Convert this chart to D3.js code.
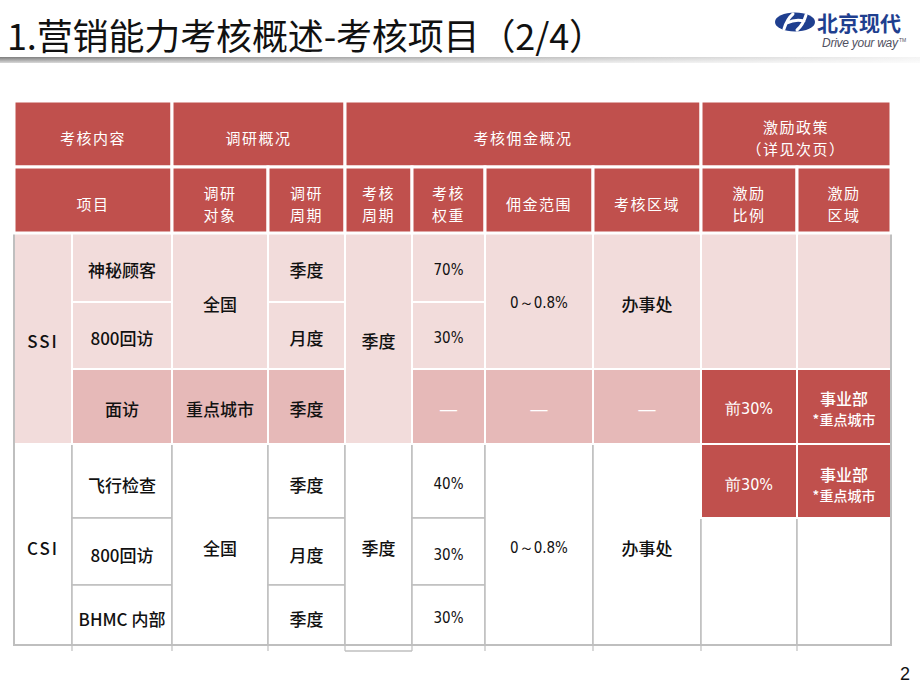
<!DOCTYPE html>
<html lang="zh">
<head>
<meta charset="utf-8" />
<title>营销能力考核概述-考核项目（2/4）</title>
<script src="https://cdn.jsdelivr.net/npm/d3@7"></script>
<style>
  body { margin: 0; background: #fff; }
  svg { display: block; }
  .title { font-family: "Noto Sans CJK SC", sans-serif; font-size: 36px; fill: #111; }
  .hdr { font-family: "Noto Sans CJK SC", sans-serif; font-size: 15px; fill: #fff; letter-spacing: 1.5px; }
  .cell { font-family: "Noto Sans CJK SC", sans-serif; font-size: 17px; font-weight: 500; fill: #111; }
  .num { font-family: "DejaVu Sans Condensed", "Liberation Sans", sans-serif; font-size: 15px; font-weight: normal; }
  .dash { font-family: "DejaVu Sans", sans-serif; font-size: 19px; }
</style>
</head>
<body>
<svg width="920" height="690"></svg>

<script>
// ---- data ----
var title = "1.营销能力考核概述-考核项目（2/4）";
var pageNo = "2";

// header, row 0 and row 1: text lines, column span [c0, c1], row span [r0, r1]
var headerCells = [
  {text: ["考核内容"], c: [0, 2], r: [0, 1]},
  {text: ["调研概况"], c: [2, 4], r: [0, 1]},
  {text: ["考核佣金概况"], c: [4, 8], r: [0, 1]},
  {text: ["激励政策", "（详见次页）"], c: [8, 10], r: [0, 1]},
  {text: ["项目"], c: [0, 2], r: [1, 2]},
  {text: ["调研", "对象"], c: [2, 3], r: [1, 2]},
  {text: ["调研", "周期"], c: [3, 4], r: [1, 2]},
  {text: ["考核", "周期"], c: [4, 5], r: [1, 2]},
  {text: ["考核", "权重"], c: [5, 6], r: [1, 2]},
  {text: ["佣金范围"], c: [6, 7], r: [1, 2]},
  {text: ["考核区域"], c: [7, 8], r: [1, 2]},
  {text: ["激励", "比例"], c: [8, 9], r: [1, 2]},
  {text: ["激励", "区域"], c: [9, 10], r: [1, 2]}
];

// body: kind p = light pink, d = dark pink, r = red, w = white
var ssiCells = [
  {text: ["SSI"], c: [0, 1], r: [2, 5], kind: "p"},
  {text: ["神秘顾客"], c: [1, 2], r: [2, 3], kind: "p"},
  {text: ["800回访"], c: [1, 2], r: [3, 4], kind: "p"},
  {text: ["面访"], c: [1, 2], r: [4, 5], kind: "d"},
  {text: ["全国"], c: [2, 3], r: [2, 4], kind: "p"},
  {text: ["重点城市"], c: [2, 3], r: [4, 5], kind: "d"},
  {text: ["季度"], c: [3, 4], r: [2, 3], kind: "p"},
  {text: ["月度"], c: [3, 4], r: [3, 4], kind: "p"},
  {text: ["季度"], c: [3, 4], r: [4, 5], kind: "d"},
  {text: ["季度"], c: [4, 5], r: [2, 5], kind: "p"},
  {text: ["70%"], c: [5, 6], r: [2, 3], kind: "p"},
  {text: ["30%"], c: [5, 6], r: [3, 4], kind: "p"},
  {text: ["—"], c: [5, 6], r: [4, 5], kind: "d"},
  {text: ["0～0.8%"], c: [6, 7], r: [2, 4], kind: "p"},
  {text: ["—"], c: [6, 7], r: [4, 5], kind: "d"},
  {text: ["办事处"], c: [7, 8], r: [2, 4], kind: "p"},
  {text: ["—"], c: [7, 8], r: [4, 5], kind: "d"},
  {text: [], c: [8, 9], r: [2, 4], kind: "p"},
  {text: ["前30%"], c: [8, 9], r: [4, 5], kind: "r"},
  {text: [], c: [9, 10], r: [2, 4], kind: "p"},
  {text: ["事业部", "*重点城市"], c: [9, 10], r: [4, 5], kind: "r"}
];

var csiCells = [
  {text: ["CSI"], c: [0, 1], r: [5, 8], kind: "w"},
  {text: ["飞行检查"], c: [1, 2], r: [5, 6], kind: "w"},
  {text: ["800回访"], c: [1, 2], r: [6, 7], kind: "w"},
  {text: ["BHMC 内部"], c: [1, 2], r: [7, 8], kind: "w"},
  {text: ["全国"], c: [2, 3], r: [5, 8], kind: "w"},
  {text: ["季度"], c: [3, 4], r: [5, 6], kind: "w"},
  {text: ["月度"], c: [3, 4], r: [6, 7], kind: "w"},
  {text: ["季度"], c: [3, 4], r: [7, 8], kind: "w"},
  {text: ["季度"], c: [4, 5], r: [5, 8], kind: "w"},
  {text: ["40%"], c: [5, 6], r: [5, 6], kind: "w"},
  {text: ["30%"], c: [5, 6], r: [6, 7], kind: "w"},
  {text: ["30%"], c: [5, 6], r: [7, 8], kind: "w"},
  {text: ["0～0.8%"], c: [6, 7], r: [5, 8], kind: "w"},
  {text: ["办事处"], c: [7, 8], r: [5, 8], kind: "w"},
  {text: ["前30%"], c: [8, 9], r: [5, 6], kind: "r"},
  {text: [], c: [8, 9], r: [6, 8], kind: "w"},
  {text: ["事业部", "*重点城市"], c: [9, 10], r: [5, 6], kind: "r"},
  {text: [], c: [9, 10], r: [6, 8], kind: "w"}
];

// ---- layout ----
var colEdges = [14, 72, 172, 268, 345, 412, 485, 593, 701, 797, 891];
var rowEdges = [101, 167, 233, 302, 369, 444, 518, 585, 645];

var red = "#c0504d", pink = "#f2dcdb", darkPink = "#e6b9b8", grid = "#bfbfbf";
var fills = {p: pink, d: darkPink, r: red, w: "#fff"};

var svg = d3.select("svg");

var x = d3.scaleLinear().domain(d3.range(colEdges.length)).range(colEdges);
var y = d3.scaleLinear().domain(d3.range(rowEdges.length)).range(rowEdges);

// title + grey rule
svg.append("text")
    .attr("class", "title")
    .attr("x", 7)
    .attr("y", 50)
    .attr("textLength", 598)
    .text(title);

var defs = svg.append("defs");
var grad = defs.append("linearGradient").attr("id", "rule");
grad.append("stop").attr("offset", "0%").attr("stop-color", "#7c7c7c");
grad.append("stop").attr("offset", "55%").attr("stop-color", "#bdbdbd");
grad.append("stop").attr("offset", "100%").attr("stop-color", "#f4f4f4");
var gradV = defs.append("linearGradient").attr("id", "ruleShade")
    .attr("x1", 0).attr("x2", 0).attr("y1", 0).attr("y2", 1);
gradV.append("stop").attr("offset", "0%").attr("stop-color", "#fff").attr("stop-opacity", 0);
gradV.append("stop").attr("offset", "100%").attr("stop-color", "#fff").attr("stop-opacity", 0.7);

svg.append("rect").attr("x", 0).attr("y", 57).attr("width", 920).attr("height", 6).attr("fill", "url(#rule)");
svg.append("rect").attr("x", 0).attr("y", 57).attr("width", 920).attr("height", 6).attr("fill", "url(#ruleShade)");

// logo
var logo = svg.append("g");
logo.append("ellipse")
    .attr("cx", 795).attr("cy", 22).attr("rx", 20).attr("ry", 9.5)
    .attr("fill", "#1f3f8f");
logo.append("path")
    .attr("d", "M784,29 Q787,19 793,14 M797,30 Q803,25 806,15 M787,23 Q795,19 804,21")
    .attr("fill", "none")
    .attr("stroke", "#fff")
    .attr("stroke-width", 3)
    .attr("stroke-linecap", "round");
logo.append("text")
    .attr("x", 817).attr("y", 31)
    .style("font-family", "'Noto Sans CJK SC', sans-serif")
    .style("font-size", "21px")
    .style("font-weight", "bold")
    .style("fill", "#1f3f8f")
    .text("北京现代");
logo.append("text")
    .attr("x", 822).attr("y", 47)
    .style("font-family", "'Liberation Sans Narrow', 'Liberation Sans', sans-serif")
    .style("font-size", "12px")
    .style("font-style", "italic")
    .style("fill", "#505060")
    .attr("textLength", 76)
    .text("Drive your way");
logo.append("text")
    .attr("x", 899).attr("y", 42)
    .style("font-family", "'Liberation Sans', sans-serif")
    .style("font-size", "5px")
    .style("fill", "#505060")
    .text("TM");

// ---- cells ----
function drawCells(cells, stroke, sw) {
  var g = svg.append("g");
  g.selectAll("rect").data(cells).enter().append("rect")
      .attr("x", function(d) { return x(d.c[0]); })
      .attr("y", function(d) { return y(d.r[0]); })
      .attr("width", function(d) { return x(d.c[1]) - x(d.c[0]); })
      .attr("height", function(d) { return y(d.r[1]) - y(d.r[0]); })
      .attr("fill", function(d) { return d.kind ? fills[d.kind] : red; })
      .attr("stroke", stroke)
      .attr("stroke-width", sw);
  return g;
}

// CSI first so the grey lines sit under the white lines of the red cells
drawCells(csiCells.filter(function(d) { return d.kind === "w"; }), grid, 1.5);

// bottom ticks below the table and the longer 季度 column
svg.append("g").selectAll("line").data(d3.range(1, 10)).enter().append("line")
    .attr("x1", function(i) { return x(i); })
    .attr("x2", function(i) { return x(i); })
    .attr("y1", y(8))
    .attr("y2", y(8) + 6)
    .attr("stroke", grid)
    .attr("stroke-width", 1.2);
svg.append("line")
    .attr("x1", x(4)).attr("x2", x(5))
    .attr("y1", y(8) + 6).attr("y2", y(8) + 6)
    .attr("stroke", grid).attr("stroke-width", 1.5);

drawCells(ssiCells, "#fff", 2);
drawCells(csiCells.filter(function(d) { return d.kind === "r"; }), "#fff", 2);

// outer frame of body
svg.append("path")
    .attr("d", "M" + x(0) + "," + y(2) + "V" + y(8) + "H" + x(10) + "V" + y(2))
    .attr("fill", "none")
    .attr("stroke", grid)
    .attr("stroke-width", 2);

// header
drawCells(headerCells, "#fff", 3);

// ---- texts ----
function isNum(s) { return /^[0-9]+%$|^前|^0～/.test(s); }

function drawTexts(cells, cls, lineH, dy) {
  var withText = cells.filter(function(d) { return d.text.length; });
  var t = svg.append("g").selectAll("text").data(withText).enter().append("text")
      .attr("class", function(d) {
        var s = d.text[0];
        if (s === "—") return cls + " dash";
        return cls + (d.text.length === 1 && isNum(s) ? " num" : "");
      })
      .attr("text-anchor", "middle")
      .style("fill", function(d) {
        if (cls === "hdr" || d.kind === "r" || d.text[0] === "—") return "#fff";
        return "#111";
      })
      .style("letter-spacing", function(d) { return /^[A-Z]+$/.test(d.text[0]) ? "2px" : null; });

  t.each(function(d) {
    var cx = (x(d.c[0]) + x(d.c[1])) / 2;
    var cy = (y(d.r[0]) + y(d.r[1])) / 2 + dy;
    var n = d.text.length;
    d3.select(this).selectAll("tspan").data(d.text).enter().append("tspan")
        .attr("x", cx)
        .attr("y", function(s, i) { return cy + (i - (n - 1) / 2) * lineH; })
        .attr("dominant-baseline", "central")
        .style("font-size", function(s) {
          if (s.charAt(0) === "*") return "14px";
          if (d.kind === "r") return "16px";
          return null;
        })
        .text(function(s) { return s; });
  });
}

drawTexts(headerCells, "hdr", 22, 3);
drawTexts(ssiCells, "cell", 21, 2);
drawTexts(csiCells, "cell", 21, 3);

// page number
svg.append("text")
    .attr("x", 905).attr("y", 680)
    .attr("text-anchor", "middle")
    .style("font-family", "'Liberation Sans', sans-serif")
    .style("font-size", "18px")
    .style("fill", "#111")
    .text(pageNo);
</script>
</body>
</html>
